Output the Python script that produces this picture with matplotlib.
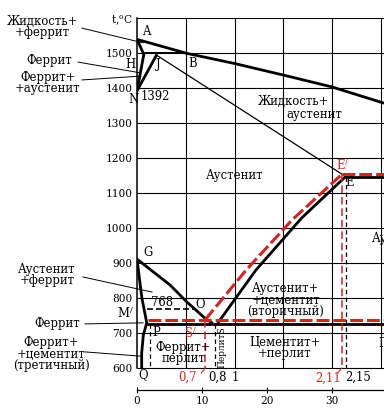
import matplotlib.pyplot as plt

# Шрифты
plt.rcParams['font.family'] = ['DejaVu Serif']
plt.rcParams['mathtext.fontset'] = 'dejavuserif'

# --- Данные диаграммы (ось X: %C, ось Y: температура, °C) ---
# Ликвидус A-B-C
liq_c = [0, 0.51, 1.0, 1.5, 2.0, 2.53]
liq_t = [1539, 1499, 1470, 1437, 1403, 1357]
# Перитектическая часть
ah_c, ah_t = [0, 0.07], [1539, 1496]
hn_c, hn_t = [0.07, 0], [1496, 1392]
jn_c, jn_t = [0.2, 0], [1494, 1392]
hb_c, hb_t = [0.07, 0.51], [1499, 1499]
# Солидус J-E (тонкая линия)
je_c, je_t = [0.2, 2.14], [1494, 1147]
# Линии GS, SE, GP, PQ
gs_c = [0, 0.34, 0.51, 0.71, 0.77]
gs_t = [911, 837, 789, 739, 729]
se_c = [0.83, 1.22, 1.69, 2.14]
se_t = [729, 880, 1029, 1147]
gp_c, gp_t = [0, 0.05, 0.1], [911, 800, 729]
pq_c, pq_t = [0.1, 0.065, 0.048, 0.048], [729, 694, 643, 600]
# Горизонтали PSK и ECF
psk_c, psk_t = [0.1, 2.6], [727, 727]
ecf_c, ecf_t = [2.14, 2.6], [1147, 1147]
# Штриховые чёрные
mo_c, mo_t = [0.1, 0.61], [768, 768]
e_vert_c, e_vert_t = [2.14, 2.14], [1147, 600]
s_vert_c, s_vert_t = [0.8, 0.8], [727, 600]
p_vert_c, p_vert_t = [0.13, 0.13], [727, 600]
# Красные штриховые (стабильная система)
red_se_c = [0.70, 1.12, 1.59, 2.10]
red_se_t = [738, 880, 1023, 1153]
red_psk_c, red_psk_t = [0.11, 2.6], [738, 738]
red_ecf_c, red_ecf_t = [2.10, 2.6], [1153, 1153]
red_e_c, red_e_t = [2.10, 2.10], [1153, 600]
red_s_c, red_s_t = [0.70, 0.70], [738, 600]

# Сетка
grid_t = [600, 700, 800, 900, 1000, 1100, 1200, 1300, 1400, 1500, 1600]
grid_c = [0.5, 1.0, 1.5, 2.0, 2.5]
# Нижняя шкала (% цементита)
fe3c_ticks = [0, 10, 20, 30]

RED = '#dd2020'
fs = 8.4
ls = 0.86

fig = plt.figure(figsize=(3.84, 4.2), dpi=100)
ax = fig.add_axes([137 / 384, 30 / 420, 247 / 384, 372 / 420])
ax.set_xlim(0, 247 / 97.5)
ax.set_ylim(1600 - 372 / 0.35, 1600)

# сетка
ax.hlines(grid_t, 0, 2.6, color='black', lw=0.8)
ax.vlines(grid_c, 600, 1600, color='black', lw=0.8)

for s in ['top', 'right']:
    ax.spines[s].set_visible(False)
ax.spines['left'].set_bounds(600, 1600)
ax.spines['left'].set_linewidth(1.1)
ax.spines['bottom'].set_linewidth(0.9)

ax.set_yticks(grid_t)
ax.set_yticklabels([str(t) for t in grid_t[:-1]] + ['t,$^{\\rm o}$C'], fontsize=7.6)
ax.tick_params(axis='y', length=0, pad=3)
ax.set_xticks([f * 6.67 / 100 for f in fe3c_ticks])
ax.set_xticklabels([str(f) for f in fe3c_ticks], fontsize=7.6)
ax.tick_params(axis='x', direction='inout', length=5, width=0.8, pad=2)

# толстые линии
thick = dict(color='black', lw=2.0, solid_capstyle='round')
for c, t in [(liq_c, liq_t), (ah_c, ah_t), (hn_c, hn_t), (jn_c, jn_t),
             (gs_c, gs_t), (se_c, se_t), (gp_c, gp_t), (pq_c, pq_t),
             (psk_c, psk_t), (ecf_c, ecf_t)]:
    ax.plot(c, t, **thick)
ax.plot(hb_c, hb_t, color='black', lw=1.4)
ax.plot(je_c, je_t, color='black', lw=0.9)

# штриховые чёрные
ax.plot(mo_c, mo_t, color='black', lw=1.2, dashes=(3.6, 1.8))
for c, t in [(e_vert_c, e_vert_t), (s_vert_c, s_vert_t), (p_vert_c, p_vert_t)]:
    ax.plot(c, t, color='black', lw=0.9, dashes=(3.5, 2.5))

# красные штриховые
for c, t in [(red_se_c, red_se_t), (red_psk_c, red_psk_t), (red_ecf_c, red_ecf_t)]:
    ax.plot(c, t, color=RED, lw=2.2, dashes=(4.2, 1.3))
for c, t in [(red_e_c, red_e_t), (red_s_c, red_s_t)]:
    ax.plot(c, t, color=RED, lw=1.1, dashes=(5, 2.5))
ax.plot([0.70, 0.66], [600, 586], color=RED, lw=0.8, clip_on=False)
ax.plot([2.10, 2.06], [600, 586], color=RED, lw=0.8, clip_on=False)

# буквенные обозначения точек
points = [('A', 0.10, 1561), ('H', -0.07, 1466), ('J', 0.215, 1466),
          ('B', 0.574, 1471), ('N', -0.04, 1366), ('1392', 0.185, 1377),
          ('G', 0.113, 929), ('768', 0.256, 786), ('M$^{/}$', -0.12, 757),
          ('O', 0.646, 780), ('P', 0.2, 702), ('E', 2.185, 1129),
          ('Q', 0.06, 580), ('0,8', 0.83, 574), ('1', 1.005, 574),
          ('2,15', 2.27, 574)]
for s, x, y in points:
    ax.text(x, y, s, fontsize=fs, ha='center', va='center')
for s, x, y in [('S$^{/}$', 0.544, 700), ('E$^{/}$', 2.11, 1180),
                ('0,7', 0.523, 574), ('2,11', 1.96, 571)]:
    ax.text(x, y, s, fontsize=fs, ha='center', va='center', color=RED)

# области
ax.text(1.6, 1361, 'Жидкость+', fontsize=fs, ha='center', va='center')
ax.text(1.815, 1325, 'аустенит', fontsize=fs, ha='center', va='center')
ax.text(1.0, 1151, 'Аустенит', fontsize=fs, ha='center', va='center')
ax.text(1.528, 794, 'Аустенит+\n+цементит\n(вторичный)', fontsize=fs,
        ha='center', va='center', linespacing=ls)
ax.text(1.518, 657, 'Цементит+\n+перлит', fontsize=fs, ha='center',
        va='center', linespacing=ls)
ax.text(0.472, 643, 'Феррит+\nперлит', fontsize=fs, ha='center',
        va='center', linespacing=ls)
ax.text(0.872, 660, 'ПерлитS', fontsize=6.5, ha='center', va='center',
        rotation=90)
ax.text(2.41, 971, 'Аустенит+', fontsize=fs, ha='left', va='center')
ax.text(2.475, 671, 'Перлит+', fontsize=fs, ha='left', va='center')

# подписи слева с выносками
labels = [('Жидкость+\n+феррит', -0.974, 1574, (-0.564, 1571), (0.062, 1529)),
          ('Феррит', -0.9, 1480, (-0.605, 1474), (0.041, 1443)),
          ('Феррит+\n+аустенит', -0.913, 1414, (-0.564, 1423), (0.04, 1434)),
          ('Аустенит\n+феррит', -0.923, 866, (-0.554, 860), (0.154, 817)),
          ('Феррит', -0.815, 728, (-0.533, 726), (0.062, 729)),
          ('Феррит+\n+цементит\n(третичный)', -0.882, 640, (-0.533, 646), (0.031, 634))]
for s, x, y, p0, p1 in labels:
    ax.text(x, y, s, fontsize=fs, ha='center', va='center', linespacing=ls)
    ax.plot([p0[0], p1[0]], [p0[1], p1[1]], color='black', lw=0.7, clip_on=False)

fig.savefig('out.png', dpi=100)
